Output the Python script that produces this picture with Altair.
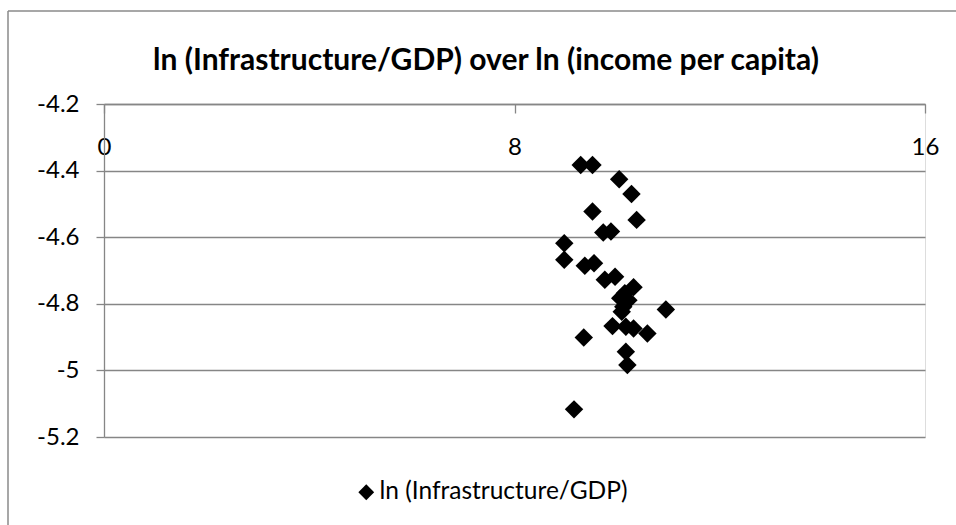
import altair as alt
import pandas as pd

# ln(income per capita) and ln(Infrastructure/GDP) for each country
ln_income = [9.29, 9.52, 10.04, 10.28, 9.52, 10.38, 9.73, 9.88, 8.97, 8.97,
             9.37, 9.55, 9.76, 9.96, 10.32, 10.06, 10.22, 10.12, 10.09, 10.95,
             9.91, 10.17, 10.32, 10.59, 9.35, 10.17, 10.20, 9.16, 10.15]
ln_infra = [-4.383, -4.383, -4.426, -4.470, -4.523, -4.548, -4.586, -4.583, -4.618, -4.668,
            -4.686, -4.678, -4.728, -4.719, -4.750, -4.783, -4.789, -4.809, -4.824, -4.817,
            -4.867, -4.869, -4.874, -4.889, -4.901, -4.944, -4.984, -5.117, -4.768]

series_name = "ln (Infrastructure/GDP)"
title_text = "ln (Infrastructure/GDP) over ln (income per capita)"
x_ticks = [0, 8, 16]
y_ticks = [-5.2, -5.0, -4.8, -4.6, -4.4, -4.2]

df = pd.DataFrame({"income": ln_income, "infra": ln_infra, "series": series_name})

FONT = "Lato"
GRID = "#868686"
W, H = 821, 333

points = alt.Chart(df).mark_point(shape="diamond", filled=True, opacity=1, size=340).encode(
    x=alt.X("income:Q",
            scale=alt.Scale(domain=[0, 16], nice=False, zero=False),
            axis=alt.Axis(values=x_ticks, title=None, orient="bottom", offset=-H,
                          grid=False, domainColor=GRID, domainWidth=1.3,
                          tickColor=GRID, tickWidth=1.3, tickSize=9,
                          labelPadding=22, labelFont=FONT, labelFontSize=24,
                          labelColor="black", labelFlush=False,
                          labelExpr="'' + datum.value")),
    y=alt.Y("infra:Q",
            scale=alt.Scale(domain=[-5.2, -4.2], nice=False, zero=False),
            axis=alt.Axis(values=y_ticks, title=None,
                          labelExpr="'' + datum.value",
                          grid=True, gridColor=GRID, gridWidth=1.3,
                          domainColor=GRID, domainWidth=1.3,
                          tickColor=GRID, tickWidth=1.3, tickSize=8,
                          labelPadding=17, labelFont=FONT, labelFontSize=24,
                          labelColor="black")),
    color=alt.Color("series:N", scale=alt.Scale(range=["black"]),
                    legend=alt.Legend(title=None, orient="none", legendX=250, legendY=376,
                                      symbolType="diamond", symbolSize=250,
                                      symbolFillColor="black", symbolStrokeWidth=0,
                                      labelFont=FONT, labelFontSize=24.5, labelColor="black",
                                      labelOffset=1, labelLimit=500, padding=0)),
)

# chart title, centred over the chart frame
title = alt.Chart(alt.Data(values=[{"t": title_text}])).mark_text(
    font=FONT, fontSize=30, fontWeight="bold", color="black",
    align="center", baseline="alphabetic"
).encode(text="t:N", x=alt.value(382), y=alt.value(-34))

# outer chart frame: top and left edges (the others run past the page)
frame_top = alt.Chart(alt.Data(values=[{}])).mark_rule(color="#8a8a8a", strokeWidth=1.5).encode(
    x=alt.value(-96), x2=alt.value(852), y=alt.value(-93))
frame_left = alt.Chart(alt.Data(values=[{}])).mark_rule(color="#8a8a8a", strokeWidth=1.5).encode(
    x=alt.value(-96), y=alt.value(-93), y2=alt.value(421))

chart = alt.layer(frame_top, frame_left, title, points).properties(
    width=W, height=H,
    autosize=alt.AutoSizeParams(type="none"),
    padding={"left": 104, "top": 104, "right": 31, "bottom": 88},
).configure_view(strokeWidth=0).configure(background="white")

chart.save("out.html", embed_options={"renderer": "svg", "actions": False})
